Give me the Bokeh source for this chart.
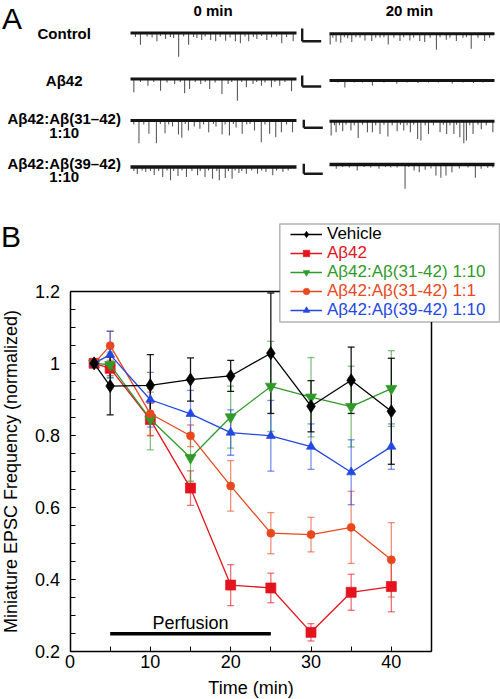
import math
from bokeh.plotting import figure
from bokeh.layouts import column
from bokeh.models import (Range1d, FixedTicker, Legend, LegendItem, Whisker, TeeHead,
                          ColumnDataSource, Label, BoxAnnotation, LinearAxis)
from bokeh.core.properties import value
from bokeh.embed import file_html
from bokeh.resources import INLINE

FONT = "Liberation Sans"

# ---------------- Panel B data ----------------
time_min = [3, 5, 10, 15, 20, 25, 30, 35, 40]
vehicle = [1.0, 0.937, 0.939, 0.955, 0.965, 1.028, 0.881, 0.953, 0.867]
vehicle_err = [0.0, 0.08, 0.085, 0.06, 0.043, 0.167, 0.071, 0.092, 0.147]
ab42 = [1.0, 0.986, 0.844, 0.654, 0.385, 0.377, 0.254, 0.365, 0.381]
ab42_err = [0.0, 0.02, 0.045, 0.048, 0.057, 0.041, 0.024, 0.05, 0.07]
ab42_ab3142_1_10 = [1.0, 0.996, 0.845, 0.738, 0.851, 0.936, 0.906, 0.880, 0.930]
ab42_ab3142_1_10_err = [0.0, 0.035, 0.085, 0.065, 0.086, 0.125, 0.11, 0.112, 0.105]
ab42_ab3142_1_1 = [1.0, 1.049, 0.860, 0.799, 0.660, 0.529, 0.525, 0.545, 0.455]
ab42_ab3142_1_1_err = [0.0, 0.04, 0.06, 0.03, 0.07, 0.057, 0.048, 0.1, 0.103]
ab42_ab3942_1_10 = [1.0, 1.024, 0.899, 0.860, 0.808, 0.799, 0.769, 0.698, 0.769]
ab42_ab3942_1_10_err = [0.0, 0.065, 0.076, 0.065, 0.063, 0.098, 0.063, 0.09, 0.063]

series_names = ["Vehicle", "Aβ42", "Aβ42:Aβ(31-42) 1:10", "Aβ42:Aβ(31-42) 1:1", "Aβ42:Aβ(39-42) 1:10"]
perfusion_start, perfusion_end, perfusion_level = 5, 25, 0.25

x_min, x_max = 0, 45
y_min, y_max = 0.2, 1.2
x_tick_values = [0, 10, 20, 30, 40]
x_minor_values = [5, 15, 25, 35, 45]
y_tick_values = [0.2, 0.4, 0.6, 0.8, 1.0, 1.2]
y_tick_labels = ["0.2", "0.4", "0.6", "0.8", "1", "1.2"]

# ---------------- Panel A data (spike position in % of sweep, amplitude) ----------------
row_labels = [["Control"], ["Aβ42"], ["Aβ42:Aβ(31–42)", "1:10"], ["Aβ42:Aβ(39–42)", "1:10"]]
col_labels = ["0 min", "20 min"]

ctrl_0 = [(6.0, 11.7), (15.9, 8.3), (21.1, 6), (29.0, 23.7), (35.0, 11.7), (42.9, 7), (48.3, 7), (51.3, 8.3),
          (57.3, 7.7), (63.2, 8.3), (66.2, 10.3), (71.2, 8.3), (76.1, 6), (82.1, 7), (91.1, 10.3), (98.0, 8.3),
          (3, 4), (10, 3.5), (13, 4.5), (18, 3), (24, 4), (26, 5), (32, 3.5), (38, 4), (40, 5), (45, 3.5),
          (54, 4), (60, 4.5), (69, 3.5), (74, 4), (79, 3), (85, 4.5), (88, 3.5), (94, 4)]
ctrl_20 = [(0.4, 10.7), (4.0, 8), (6.8, 9), (13.5, 8.3), (18.5, 4), (21.5, 6.7), (25.6, 7.3), (30.6, 4),
           (35.6, 10.7), (42.7, 7.3), (48.7, 6.7), (54.7, 7.3), (57.7, 8.3), (64.8, 16), (70.8, 6), (76.9, 7.3),
           (80.9, 4), (85.9, 15), (94.0, 7.3), (2, 4), (9, 3.5), (11, 4.5), (16, 3.5), (28, 4), (33, 3.5),
           (39, 4), (45, 3.5), (51, 4), (61, 4), (67, 3.5), (73, 4), (83, 3.5), (90, 4), (97, 4)]
ab42_0 = [(2.0, 13.3), (10.5, 6.7), (18.1, 11.7), (26.6, 5), (32.6, 14.3), (35.6, 10), (42.3, 5), (47.7, 10),
          (55.1, 15), (58.8, 5), (64.4, 21.7), (69.8, 8.3), (73.8, 5), (78.9, 6.7), (84.9, 8.3), (89.9, 6.7),
          (97.0, 12.3), (6, 3), (14, 3), (22, 3.5), (30, 3), (39, 3), (45, 3), (51, 3.5), (61, 3), (67, 3),
          (76, 3), (81, 3.5), (87, 3), (93, 3)]
ab42_20 = [(9.3, 7), (26.0, 5), (40.8, 3.3), (53.6, 2.5), (74.4, 3), (87.2, 2.5), (5, 2), (15, 2), (20, 2),
           (33, 2), (47, 2), (60, 2), (66, 2), (81, 2), (93, 2)]
ab3142_0 = [(5.1, 22.7), (11.1, 13.3), (15.6, 22.7), (20.8, 12.7), (25.3, 6), (28.9, 14), (30.9, 17.3),
            (34.9, 10), (38.4, 6), (41.8, 8.3), (47.1, 11.7), (51.5, 6), (55.2, 14), (59.6, 15), (63.6, 7),
            (67.3, 13.3), (74.7, 10), (78.8, 21.7), (83.8, 13.3), (87.5, 16.7), (90.9, 11.7), (97.6, 11.7),
            (2, 4), (8, 4), (18, 3.5), (23, 4), (33, 3.5), (44, 4), (50, 3.5), (57, 4), (62, 3.5), (70, 4),
            (72, 3.5), (81, 4), (94, 4)]
ab3142_20 = [(1.0, 14.3), (4.0, 11), (8.0, 10), (13.0, 9.3), (17.4, 16.7), (23.0, 11), (26.0, 11), (30.6, 12.7),
             (35.4, 15.3), (41.0, 10), (45.0, 9.3), (49.0, 11), (53.4, 17.7), (55.4, 19.3), (60.0, 12.7),
             (67.0, 11), (71.0, 12.7), (75.4, 12.7), (79.0, 16), (81.4, 22), (83.0, 19.3), (87.0, 12.7),
             (92.0, 8), (99.0, 11), (3, 4), (6, 4), (10, 3.5), (15, 4), (20, 3.5), (28, 4), (33, 3.5), (38, 4),
             (43, 3.5), (47, 4), (51, 3.5), (58, 4), (63, 4), (69, 3.5), (73, 4), (77, 3.5), (85, 4), (90, 3.5),
             (95, 4)]
ab3942_0 = [(4.1, 7), (9.2, 5), (14.3, 8), (19.4, 10), (24.1, 13.3), (28.6, 9), (33.7, 10), (40.4, 8.3),
            (44.9, 10), (49.4, 11.7), (53.5, 13.3), (57.1, 11), (61.2, 11.7), (65.3, 6), (69.8, 6.7), (76.5, 6.7),
            (81.6, 5), (85.7, 8.3), (91.8, 5), (2, 4), (7, 3.5), (12, 4), (17, 4), (22, 3.5), (26, 4), (31, 3.5),
            (37, 4), (42, 4), (47, 3.5), (52, 4), (59, 4), (63, 3.5), (67, 4), (73, 3.5), (79, 3.5), (88, 3.5),
            (95, 3.5)]
ab3942_20 = [(4.1, 4.3), (16.8, 6), (30.0, 4.3), (37.1, 3), (45.8, 24.3), (51.3, 6), (54.4, 7.7), (58.0, 5.3),
             (61.5, 4), (64.5, 11), (67.5, 13.3), (70.6, 11), (74.2, 7.7), (78.7, 4), (88.4, 13.3), (91.9, 4.3),
             (95.9, 3.3), (8, 2.5), (12, 3), (21, 2.5), (25, 3), (34, 2.5), (41, 3), (48, 2.5), (84, 3), (99, 3)]

traces = [[ctrl_0, ctrl_20], [ab42_0, ab42_20], [ab3142_0, ab3142_20], [ab3942_0, ab3942_20]]

# ---------------- layout constants (page pixels) ----------------
PAGE_L, PAGE_R = 0, 500
A_TOP, A_BOT = 0, 216
B_TOP, B_BOT = 216, 699
X0_PX, X45_PX = 69.5, 431.0      # where x=0 and x=45 fall
Y02_PX, Y12_PX = 651.3, 290.7    # where y=0.2 and y=1.2 fall

# ---------------- Panel A (page-pixel coordinates) ----------------
pA = figure(width=PAGE_R - PAGE_L, height=A_BOT - A_TOP, x_range=Range1d(PAGE_L, PAGE_R),
            y_range=Range1d(A_BOT, A_TOP), output_backend="svg", toolbar_location=None,
            x_axis_type=None, y_axis_type=None, min_border=0, min_border_left=0, min_border_right=0,
            min_border_top=0, min_border_bottom=0)
pA.outline_line_color = None
pA.xgrid.visible = False
pA.ygrid.visible = False

col_x0 = [130, 329]
col_x1 = [296, 494]
base_left = [32.5, 78.5, 120, 166.5]
base_right = [33.3, 80, 120.7, 164]
bar_x = [301.7, 301.7, 303.3, 303.3]
bar_top = [28, 75, 119.3, 163.3]
bar_bot = [40.7, 86, 127.3, 173.3]

for r in range(4):
    for c in range(2):
        base = base_left[r] if c == 0 else base_right[r]
        x0, x1 = col_x0[c], col_x1[c]
        spikes = traces[r][c]
        sx = [x0 + (x1 - x0) * pct / 100.0 for pct, _ in spikes]
        sy0 = [base for _ in spikes]
        sy1 = [base + amp for _, amp in spikes]
        pA.segment(x0=sx, y0=sy0, x1=sx, y1=sy1, line_color="#5a5a5a", line_width=1.1)
        pA.line([x0, x1], [base, base], line_color="#141414", line_width=3.6 if r == 3 else 3.1)
    pA.segment(x0=[bar_x[r], bar_x[r]], y0=[bar_top[r], bar_bot[r]], x1=[bar_x[r], bar_x[r] + 19],
               y1=[bar_bot[r], bar_bot[r]], line_color="#1a1a1a", line_width=2.4)

lab_x, lab_y, lab_t = [], [], []
row_label_y = [[33.3], [80], [118.3, 131.7], [163.3, 176]]
for r, lines in enumerate(row_labels):
    for k, t in enumerate(lines):
        lab_x.append(63.7)
        lab_y.append(row_label_y[r][k])
        lab_t.append(t)
pA.text(x=lab_x, y=lab_y, text=lab_t, text_font=value(FONT), text_font_style="bold",
        text_font_size="15px", text_align="center", text_baseline="middle", text_color="black")
pA.text(x=[212.5, 409], y=[9.5, 9.5], text=col_labels, text_font=value(FONT), text_font_style="bold",
        text_font_size="15px", text_align="center", text_baseline="middle", text_color="black")
pA.text(x=[1.5], y=[17.5], text=["A"], text_font=value(FONT), text_font_size="30px",
        text_align="left", text_baseline="middle", text_color="black")

# ---------------- Panel B ----------------
pxx = (X45_PX - X0_PX) / (x_max - x_min)
pxy = (Y02_PX - Y12_PX) / (y_max - y_min)
xr = Range1d(x_min - (X0_PX - PAGE_L) / pxx, x_max + (PAGE_R - X45_PX) / pxx)
yr = Range1d(y_min - (B_BOT - Y02_PX) / pxy, y_max + (Y12_PX - B_TOP) / pxy)

pB = figure(width=PAGE_R - PAGE_L, height=B_BOT - B_TOP, x_range=xr, y_range=yr,
            output_backend="svg", toolbar_location=None, x_axis_type=None, y_axis_type=None,
            min_border=0, min_border_left=0, min_border_right=0, min_border_top=0, min_border_bottom=0)
pB.xgrid.visible = False
pB.ygrid.visible = False
pB.outline_line_color = None
pB.background_fill_color = "white"
pB.border_fill_color = "white"


def style_axis(ax):
    ax.axis_line_color = "black"
    ax.axis_line_width = 1.5
    ax.major_tick_in = 5
    ax.major_tick_out = 0
    ax.minor_tick_in = 5
    ax.minor_tick_out = 0
    ax.major_tick_line_color = "black"
    ax.minor_tick_line_color = "black"
    ax.major_tick_line_width = 1
    ax.minor_tick_line_width = 1
    ax.major_label_text_font = FONT
    ax.major_label_text_font_size = "18px"
    ax.major_label_text_color = "black"
    ax.axis_label_text_font = FONT
    ax.axis_label_text_font_size = "18px"
    ax.axis_label_text_font_style = "normal"
    ax.axis_label_text_color = "black"


xaxis = LinearAxis(fixed_location=y_min, bounds=(x_min, x_max),
                   ticker=FixedTicker(ticks=x_tick_values, minor_ticks=x_minor_values),
                   axis_label="Time (min)")
style_axis(xaxis)
xaxis.major_label_standoff = 3
xaxis.axis_label_standoff = 7
pB.add_layout(xaxis, "below")

yaxis = LinearAxis(fixed_location=x_min, bounds=(y_min, y_max),
                   ticker=FixedTicker(ticks=y_tick_values,
                                      minor_ticks=[round(y_min + 0.05 * i, 2) for i in range(21)]),
                   axis_label="Miniature EPSC Frequency (normalized)")
style_axis(yaxis)
yaxis.major_label_overrides = {v: t for v, t in zip(y_tick_values, y_tick_labels)}
yaxis.major_label_standoff = 10
yaxis.axis_label_standoff = 11
pB.add_layout(yaxis, "left")

for loc, bnds, side in [(y_max, (x_min, x_max), "above"), (x_max, (y_min, y_max), "right")]:
    ax = LinearAxis(fixed_location=loc, bounds=bnds, ticker=FixedTicker(ticks=[], minor_ticks=[]))
    style_axis(ax)
    ax.major_tick_line_color = None
    ax.minor_tick_line_color = None
    ax.major_label_text_alpha = 0
    pB.add_layout(ax, side)

colors = ["#000000", "#e3141e", "#2f9a2a", "#e8481e", "#2348e0"]
markers = ["diamond", "square", "inverted_triangle", "circle", "triangle"]
sizes = [13, 10, 11, 8, 9]
values = [vehicle, ab42, ab42_ab3142_1_10, ab42_ab3142_1_1, ab42_ab3942_1_10]
errors = [vehicle_err, ab42_err, ab42_ab3142_1_10_err, ab42_ab3142_1_1_err, ab42_ab3942_1_10_err]

renderers = {}
for i in [1, 2, 3, 4, 0]:
    y, err, col = values[i], errors[i], colors[i]
    wsrc = ColumnDataSource(dict(
        base=[t for t, e in zip(time_min, err) if e > 0],
        upper=[v + e for v, e in zip(y, err) if e > 0],
        lower=[v - e for v, e in zip(y, err) if e > 0]))
    alpha = 0.9 if i == 0 else 0.6
    w = Whisker(source=wsrc, base="base", upper="upper", lower="lower",
                line_color=col, line_alpha=alpha, line_width=1.3,
                upper_head=TeeHead(size=7, line_color=col, line_alpha=alpha, line_width=1.3),
                lower_head=TeeHead(size=7, line_color=col, line_alpha=alpha, line_width=1.3))
    pB.add_layout(w)
    src = ColumnDataSource(dict(x=time_min, y=y))
    lr = pB.line("x", "y", source=src, line_color=col, line_width=1.3)
    sr = pB.scatter("x", "y", source=src, marker=markers[i], size=sizes[i],
                    fill_color=col, line_color=col, line_alpha=0.7)
    renderers[i] = [lr, sr]

pB.segment(x0=[perfusion_start], y0=[perfusion_level], x1=[perfusion_end], y1=[perfusion_level],
           line_color="black", line_width=3.6)
pB.text(x=[(perfusion_start + perfusion_end) / 2], y=[0.281], text=["Perfusion"], text_font=value(FONT),
        text_font_size="18px", text_align="center", text_baseline="middle", text_color="black")

# legend: white box + one single-row legend per series (so each label gets its own colour)
box = BoxAnnotation(left=279.3 - PAGE_L, right=499 - PAGE_L, bottom=B_BOT - 321.5, top=B_BOT - 223.5,
                    left_units="screen", right_units="screen", top_units="screen", bottom_units="screen",
                    fill_color="white", fill_alpha=1.0, line_color="black", line_width=1.5)
pB.add_layout(box)
row_centers = [234.5, 253.5, 272.5, 291.5, 310.5]
for i in range(5):
    lg = Legend(items=[LegendItem(label=series_names[i], renderers=renderers[i])],
                location=(290 - PAGE_L, B_BOT - row_centers[i] - 9.5), padding=0, margin=0, spacing=0,
                border_line_color=None, background_fill_alpha=0,
                label_text_color=colors[i], label_text_font=FONT, label_text_font_size="17px",
                glyph_width=32, glyph_height=16, label_height=16, label_standoff=5)
    pB.add_layout(lg)

pB.add_layout(Label(x=0.5, y=B_BOT - 236, x_units="screen", y_units="screen", text="B",
                    text_font=FONT, text_font_size="30px", text_align="left", text_baseline="middle",
                    text_color="black"))

layout = column(pA, pB, spacing=0)
open("out.html", "w").write(file_html(layout, INLINE))
